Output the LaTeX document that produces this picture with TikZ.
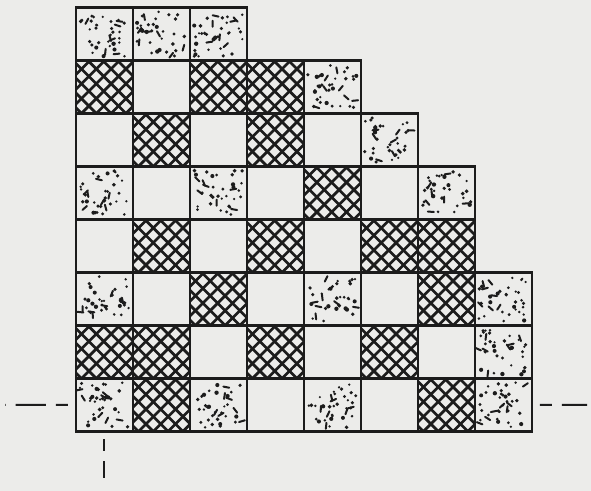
\documentclass[tikz,border=0pt]{standalone}
\usetikzlibrary{calc}
\definecolor{Paper}{RGB}{236,236,234}
\definecolor{Ink}{RGB}{28,28,28}
\tikzset{
  cell/.style={draw=Ink,line width=1.2pt,minimum width=1cm,minimum height=.93cm,inner sep=0pt,outer sep=0pt},
  cellB/.style={cell},
  cellM/.style={cell,path picture={
    \foreach \k in {-1.2,-0.94,...,2.4}{
      \draw[Ink,line width=1.35pt] ([xshift=\k cm]path picture bounding box.south west) -- ++(1.2,1.2);
      \draw[Ink,line width=1.35pt] ([xshift=\k cm]path picture bounding box.south west) -- ++(-1.2,1.2);
    }}},
  cellD/.style={cell,path picture={
    \foreach \i in {1,...,30}{
      \fill[Ink] ($(path picture bounding box.south west)+({.07+.86*rnd},{.07+.79*rnd})$) circle ({.6pt+.5pt*rnd});
    }
    \foreach \i in {1,...,7}{
      \draw[Ink,line width=1pt,line cap=round] ($(path picture bounding box.south west)+({.1+.8*rnd},{.1+.73*rnd})$) -- ++({rnd*360}:3pt);
    }}},
  axis/.style={draw=Ink,line width=1pt,dash pattern=on 6pt off 5pt on 15pt off 5pt,shorten <=4pt}
}
\begin{document}
\begin{tikzpicture}[x=1cm,y=1cm]
  \pgfmathsetseed{11}
  \fill[Paper] (0,0) rectangle (10.37,8.61);
  % rows from the top, B blank, M mesh, D dots
  \foreach \r/\row in {1/{D,D,D},2/{M,B,M,M,D},3/{B,M,B,M,B,D},4/{D,B,D,B,M,B,D},
    5/{B,M,B,M,B,M,M},6/{D,B,M,B,D,B,M,D},7/{M,M,B,M,B,M,B,D},8/{D,M,D,B,D,B,M,D}}{
    \foreach \t [count=\c] in \row{
      \node[cell\t] (c\r-\c) at ({1.33+\c-.5},{1.04+(8-\r)*.93+.465}) {};
    }
  }
  \coordinate (axl) at (0.09,1.505);
  \coordinate (axr) at (10.3,1.505);
  \coordinate (axb) at (1.83,0.23);
  \draw[axis] (c8-1.west) -- (axl);
  \draw[axis] (c8-8.east) -- (axr);
  \draw[axis] (c8-1.south) -- (axb);
\end{tikzpicture}
\end{document}
